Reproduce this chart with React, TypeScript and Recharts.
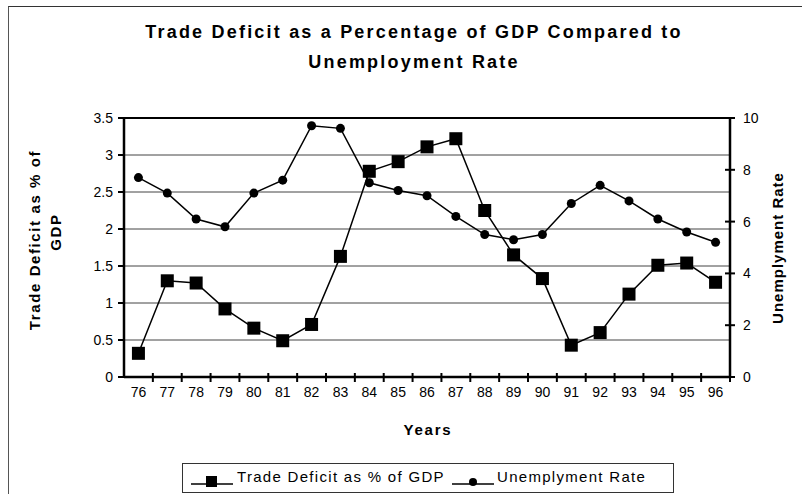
import React from "react";
import {
  CartesianGrid,
  Legend,
  Line,
  LineChart,
  ReferenceLine,
  XAxis,
  YAxis,
} from "recharts";

const years = ["76", "77", "78", "79", "80", "81", "82", "83", "84", "85", "86", "87", "88", "89", "90", "91", "92", "93", "94", "95", "96"];
const tradeDeficit = [0.32, 1.3, 1.27, 0.92, 0.66, 0.49, 0.71, 1.63, 2.78, 2.91, 3.11, 3.22, 2.25, 1.65, 1.33, 0.43, 0.6, 1.12, 1.51, 1.54, 1.28];
const unemployment = [7.7, 7.1, 6.1, 5.8, 7.1, 7.6, 9.7, 9.6, 7.5, 7.2, 7.0, 6.2, 5.5, 5.3, 5.5, 6.7, 7.4, 6.8, 6.1, 5.6, 5.2];
const leftTicks = [0, 0.5, 1, 1.5, 2, 2.5, 3, 3.5];
const rightTicks = [0, 2, 4, 6, 8, 10];

const data = years.map((year, i) => ({
  year,
  trade: tradeDeficit[i],
  unemp: unemployment[i],
}));

const FONT = "'Liberation Sans', Arial, sans-serif";
const W = 802;
const H = 494;
const PLOT_LEFT = 124;
const PLOT_RIGHT = 730;
const PLOT_TOP = 118;
const PLOT_BOTTOM = 377;
const BAND = (PLOT_RIGHT - PLOT_LEFT) / years.length;

const XTick = (props: any) => {
  const { x, y, payload } = props;
  const axisY = y - 10;
  return (
    <g>
      <line x1={x + BAND / 2} x2={x + BAND / 2} y1={axisY - 4} y2={axisY + 5} stroke="#000" strokeWidth={2} />
      <text x={x} y={y} dy="0.71em" textAnchor="middle" fill="#000" fontSize={14} fontFamily={FONT}>
        {payload.value}
      </text>
    </g>
  );
};

const RightTick = (props: any) => {
  const { x, y, payload } = props;
  const axisX = x - 13;
  return (
    <g>
      <line x1={axisX - 5} x2={axisX + 5} y1={y} y2={y} stroke="#000" strokeWidth={2} />
      <text x={x} y={y} dy="0.35em" textAnchor="start" fill="#000" fontSize={14} fontFamily={FONT}>
        {payload.value}
      </text>
    </g>
  );
};

const SquareDot = (props: any) => {
  const { cx, cy, index } = props;
  return <rect key={`sq-${index}`} x={cx - 6.5} y={cy - 6.5} width={13} height={13} fill="#000" />;
};

const RoundDot = (props: any) => {
  const { cx, cy, index } = props;
  return <circle key={`ci-${index}`} cx={cx} cy={cy} r={4.5} fill="#000" />;
};

const LegendBox = (props: any) => {
  const items = props.payload || [];
  const markerX = [8, 269];
  const textX = [54, 314];
  return (
    <div
      style={{
        position: "relative",
        width: 492,
        height: 30,
        boxSizing: "border-box",
        border: "1px solid #333",
        background: "#fff",
        fontFamily: FONT,
      }}
    >
      {items.map((entry: any, i: number) => (
        <React.Fragment key={entry.value}>
          <svg width={42} height={20} style={{ position: "absolute", left: markerX[i], top: 8 }}>
            <line x1={0} x2={42} y1={12} y2={12} stroke="#000" strokeWidth={1.5} />
            {entry.dataKey === "trade" ? (
              <rect x={15} y={4} width={11} height={11} fill="#000" />
            ) : (
              <circle cx={21} cy={10} r={4} fill="#000" />
            )}
          </svg>
          <span
            style={{
              position: "absolute",
              left: textX[i],
              top: 4,
              fontSize: 15,
              letterSpacing: 1.3,
              whiteSpace: "nowrap",
              color: "#000",
            }}
          >
            {entry.value}
          </span>
        </React.Fragment>
      ))}
    </div>
  );
};

export default function App() {
  return (
    <div style={{ position: "absolute", left: 0, top: 0, width: W, height: H, background: "#fff", overflow: "hidden" }}>
      <div
        style={{
          position: "absolute",
          left: 8,
          top: 6,
          width: W - 9,
          height: H,
          borderLeft: "1px solid #555",
          borderTop: "1px solid #333",
        }}
      />
      <LineChart
        width={W}
        height={H}
        data={data}
        margin={{ top: PLOT_TOP, left: PLOT_LEFT - 60, right: W - PLOT_RIGHT - 40, bottom: H - PLOT_BOTTOM - 30 }}
      >
        <CartesianGrid yAxisId="left" vertical={false} stroke="#444" strokeWidth={1} />
        <XAxis
          dataKey="year"
          height={30}
          interval={0}
          padding={{ left: BAND / 2, right: BAND / 2 }}
          axisLine={{ stroke: "#000", strokeWidth: 2.5 }}
          tickLine={false}
          tickSize={5}
          tickMargin={5}
          tick={<XTick />}
        />
        <YAxis
          yAxisId="left"
          width={60}
          domain={[0, 3.5]}
          ticks={leftTicks}
          interval={0}
          axisLine={{ stroke: "#000", strokeWidth: 2.5 }}
          tickLine={{ stroke: "#000", strokeWidth: 2 }}
          tickSize={6}
          tickMargin={5}
          tick={{ fill: "#000", fontSize: 14, fontFamily: FONT }}
        />
        <YAxis
          yAxisId="right"
          orientation="right"
          width={40}
          domain={[0, 10]}
          ticks={rightTicks}
          interval={0}
          axisLine={{ stroke: "#000", strokeWidth: 2.5 }}
          tickLine={false}
          tickSize={5}
          tickMargin={8}
          tick={<RightTick />}
        />
        <ReferenceLine yAxisId="left" y={3.5} stroke="#000" strokeWidth={2} />
        <Legend
          layout="horizontal"
          verticalAlign="middle"
          wrapperStyle={{ left: 182, top: 463, width: 492, height: 30 }}
          content={<LegendBox />}
        />
        <Line
          yAxisId="left"
          dataKey="trade"
          name="Trade Deficit as % of GDP"
          stroke="#000"
          strokeWidth={1.5}
          dot={<SquareDot />}
          activeDot={false}
          isAnimationActive={false}
        />
        <Line
          yAxisId="right"
          dataKey="unemp"
          name="Unemplyment Rate"
          stroke="#000"
          strokeWidth={1.5}
          dot={<RoundDot />}
          activeDot={false}
          isAnimationActive={false}
        />
      </LineChart>
      <svg width={W} height={H} style={{ position: "absolute", left: 0, top: 0, pointerEvents: "none" }}>
        <g fontFamily={FONT} fontWeight="bold" fill="#000">
          <text x={414} y={38} textAnchor="middle" fontSize={18} letterSpacing={2.2}>
            Trade Deficit as a Percentage of GDP Compared to
          </text>
          <text x={414} y={68} textAnchor="middle" fontSize={18} letterSpacing={2.2}>
            Unemployment Rate
          </text>
          <text x={428} y={435} textAnchor="middle" fontSize={15} letterSpacing={1.8}>
            Years
          </text>
          <text
            transform="translate(34 240) rotate(-90)"
            textAnchor="middle"
            dominantBaseline="central"
            fontSize={15}
            letterSpacing={1.6}
          >
            Trade Deficit as % of
          </text>
          <text
            transform="translate(55 232) rotate(-90)"
            textAnchor="middle"
            dominantBaseline="central"
            fontSize={15}
            letterSpacing={1.6}
          >
            GDP
          </text>
          <text
            transform="translate(777 248) rotate(-90)"
            textAnchor="middle"
            dominantBaseline="central"
            fontSize={15}
            letterSpacing={1}
          >
            Unemplyment Rate
          </text>
        </g>
      </svg>
    </div>
  );
}
